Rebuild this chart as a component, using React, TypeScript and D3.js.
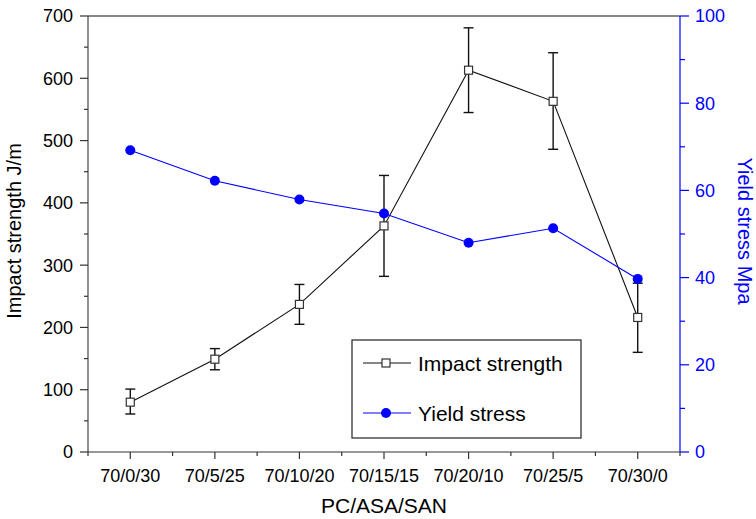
import React, { useRef, useEffect } from 'react';
import * as d3 from 'd3';

const categories = ['70/0/30', '70/5/25', '70/10/20', '70/15/15', '70/20/10', '70/25/5', '70/30/0'];
const impactStrength = [80, 149, 237, 363, 613, 563, 216];
const impactLow = [61, 132, 205, 282, 545, 486, 160];
const impactHigh = [101, 166, 269, 444, 681, 641, 271];
const yieldStress = [69.2, 62.2, 57.9, 54.7, 48.0, 51.3, 39.7];
const leftTicks = [0, 100, 200, 300, 400, 500, 600, 700];
const rightTicks = [0, 20, 40, 60, 80, 100];

const FONT = '"Liberation Sans", Arial, Helvetica, sans-serif';
const BLUE = '#0000ff';

const App: React.FC = () => {
  const svgRef = useRef<SVGSVGElement>(null);
  const width = 756;
  const height = 519;
  const margin = { top: 16, right: 76, bottom: 67, left: 88 };

  useEffect(() => {
    const svg = d3.select(svgRef.current);
    svg.selectAll('*').remove();

    const innerWidth = width - margin.left - margin.right;
    const innerHeight = height - margin.top - margin.bottom;

    const g = svg.append('g').attr('transform', `translate(${margin.left}, ${margin.top})`);

    // Scales
    const x = d3.scalePoint<string>().domain(categories).range([0, innerWidth]).padding(0.5);
    const step = x.step();
    const yLeft = d3.scaleLinear().domain([0, 700]).range([innerHeight, 0]);
    const yRight = d3.scaleLinear().domain([0, 100]).range([innerHeight, 0]);

    // Frame: top line
    g.append('line')
      .attr('x1', 0).attr('x2', innerWidth).attr('y1', 0).attr('y2', 0)
      .attr('stroke', '#111').attr('stroke-width', 1.2);

    // Left axis
    g.append('line')
      .attr('x1', 0).attr('x2', 0).attr('y1', 0).attr('y2', innerHeight)
      .attr('stroke', '#444').attr('stroke-width', 1.2);
    d3.range(0, 701, 50).forEach(v => {
      const major = v % 100 === 0;
      g.append('line')
        .attr('x1', major ? -8 : -4).attr('x2', 0)
        .attr('y1', yLeft(v)).attr('y2', yLeft(v))
        .attr('stroke', '#333').attr('stroke-width', 1.2);
    });
    g.selectAll('.ltick')
      .data(leftTicks)
      .enter().append('text')
      .attr('x', -15)
      .attr('y', d => yLeft(d))
      .attr('dy', '0.36em')
      .attr('text-anchor', 'end')
      .attr('fill', '#000')
      .style('font-family', FONT)
      .style('font-size', '18px')
      .text(d => d);

    // Right axis
    g.append('line')
      .attr('x1', innerWidth).attr('x2', innerWidth).attr('y1', 0).attr('y2', innerHeight)
      .attr('stroke', BLUE).attr('stroke-width', 1.2);
    d3.range(0, 101, 10).forEach(v => {
      const major = v % 20 === 0;
      g.append('line')
        .attr('x1', innerWidth).attr('x2', innerWidth + (major ? 9 : 5))
        .attr('y1', yRight(v)).attr('y2', yRight(v))
        .attr('stroke', BLUE).attr('stroke-width', 1.2);
    });
    g.selectAll('.rtick')
      .data(rightTicks)
      .enter().append('text')
      .attr('x', innerWidth + 15)
      .attr('y', d => yRight(d))
      .attr('dy', '0.36em')
      .attr('text-anchor', 'start')
      .attr('fill', BLUE)
      .style('font-family', FONT)
      .style('font-size', '18px')
      .text(d => d);

    // Bottom axis
    g.append('line')
      .attr('x1', 0).attr('x2', innerWidth).attr('y1', innerHeight).attr('y2', innerHeight)
      .attr('stroke', '#333').attr('stroke-width', 1.2);
    categories.forEach((c, i) => {
      const cx = x(c) as number;
      g.append('line')
        .attr('x1', cx).attr('x2', cx).attr('y1', innerHeight).attr('y2', innerHeight + 7)
        .attr('stroke', '#333').attr('stroke-width', 1.2);
      g.append('line')
        .attr('x1', cx - step / 2).attr('x2', cx - step / 2)
        .attr('y1', innerHeight).attr('y2', innerHeight + 4)
        .attr('stroke', '#333').attr('stroke-width', 1.2);
      if (i === categories.length - 1) {
        g.append('line')
          .attr('x1', cx + step / 2).attr('x2', cx + step / 2)
          .attr('y1', innerHeight).attr('y2', innerHeight + 4)
          .attr('stroke', '#333').attr('stroke-width', 1.2);
      }
    });
    g.selectAll('.xtick')
      .data(categories)
      .enter().append('text')
      .attr('x', d => x(d) as number)
      .attr('y', innerHeight + 30)
      .attr('text-anchor', 'middle')
      .attr('fill', '#000')
      .style('font-family', FONT)
      .style('font-size', '18px')
      .text(d => d);

    // Axis titles
    g.append('text')
      .attr('x', innerWidth / 2)
      .attr('y', innerHeight + 61)
      .attr('text-anchor', 'middle')
      .attr('fill', '#000')
      .style('font-family', FONT)
      .style('font-size', '21px')
      .text('PC/ASA/SAN');

    g.append('text')
      .attr('transform', `translate(${-67}, ${innerHeight / 2 - 3}) rotate(-90)`)
      .attr('text-anchor', 'middle')
      .attr('fill', '#000')
      .style('font-family', FONT)
      .style('font-size', '20px')
      .text('Impact strength J/m');

    g.append('text')
      .attr('transform', `translate(${innerWidth + 58}, ${innerHeight / 2 - 3}) rotate(90)`)
      .attr('text-anchor', 'middle')
      .attr('fill', BLUE)
      .style('font-family', FONT)
      .style('font-size', '20px')
      .text('Yield stress Mpa');

    // Impact strength line
    const impactLine = d3.line<number>()
      .x((_, i) => x(categories[i]) as number)
      .y(d => yLeft(d));
    g.append('path')
      .datum(impactStrength)
      .attr('fill', 'none')
      .attr('stroke', '#111')
      .attr('stroke-width', 1.1)
      .attr('d', impactLine);

    // Error bars
    categories.forEach((c, i) => {
      const cx = x(c) as number;
      const eb = g.append('g').attr('stroke', '#111').attr('stroke-width', 1.4);
      eb.append('line').attr('x1', cx).attr('x2', cx)
        .attr('y1', yLeft(impactLow[i])).attr('y2', yLeft(impactHigh[i]));
      eb.append('line').attr('x1', cx - 5).attr('x2', cx + 5)
        .attr('y1', yLeft(impactLow[i])).attr('y2', yLeft(impactLow[i]));
      eb.append('line').attr('x1', cx - 5).attr('x2', cx + 5)
        .attr('y1', yLeft(impactHigh[i])).attr('y2', yLeft(impactHigh[i]));
    });

    // Square markers
    g.selectAll('.sq')
      .data(impactStrength)
      .enter().append('rect')
      .attr('x', (_, i) => (x(categories[i]) as number) - 4)
      .attr('y', d => yLeft(d) - 4)
      .attr('width', 8)
      .attr('height', 8)
      .attr('fill', '#fff')
      .attr('stroke', '#333')
      .attr('stroke-width', 1.2);

    // Yield stress line
    const yieldLine = d3.line<number>()
      .x((_, i) => x(categories[i]) as number)
      .y(d => yRight(d));
    g.append('path')
      .datum(yieldStress)
      .attr('fill', 'none')
      .attr('stroke', BLUE)
      .attr('stroke-width', 1.1)
      .attr('d', yieldLine);

    g.selectAll('.dot')
      .data(yieldStress)
      .enter().append('circle')
      .attr('cx', (_, i) => x(categories[i]) as number)
      .attr('cy', d => yRight(d))
      .attr('r', 5)
      .attr('fill', BLUE);

    // Legend
    const lg = svg.append('g').attr('transform', 'translate(352, 340)');
    lg.append('rect')
      .attr('width', 229).attr('height', 98)
      .attr('fill', '#fff').attr('stroke', '#333').attr('stroke-width', 1.3);
    lg.append('line').attr('x1', 11).attr('x2', 59).attr('y1', 23).attr('y2', 23)
      .attr('stroke', '#111').attr('stroke-width', 1.1);
    lg.append('rect').attr('x', 30).attr('y', 19).attr('width', 8).attr('height', 8)
      .attr('fill', '#fff').attr('stroke', '#333').attr('stroke-width', 1.2);
    lg.append('text').attr('x', 66).attr('y', 23).attr('dy', '0.36em')
      .attr('fill', '#000').style('font-family', FONT).style('font-size', '21px')
      .text('Impact strength');
    lg.append('line').attr('x1', 11).attr('x2', 59).attr('y1', 73).attr('y2', 73)
      .attr('stroke', BLUE).attr('stroke-width', 1.1);
    lg.append('circle').attr('cx', 34).attr('cy', 73).attr('r', 5).attr('fill', BLUE);
    lg.append('text').attr('x', 66).attr('y', 73).attr('dy', '0.36em')
      .attr('fill', '#000').style('font-family', FONT).style('font-size', '21px')
      .text('Yield stress');
  }, []);

  return (
    <svg
      ref={svgRef}
      width={width}
      height={height}
      style={{ position: 'absolute', left: 0, top: 0, background: '#fff' }}
    />
  );
};

export default App;
